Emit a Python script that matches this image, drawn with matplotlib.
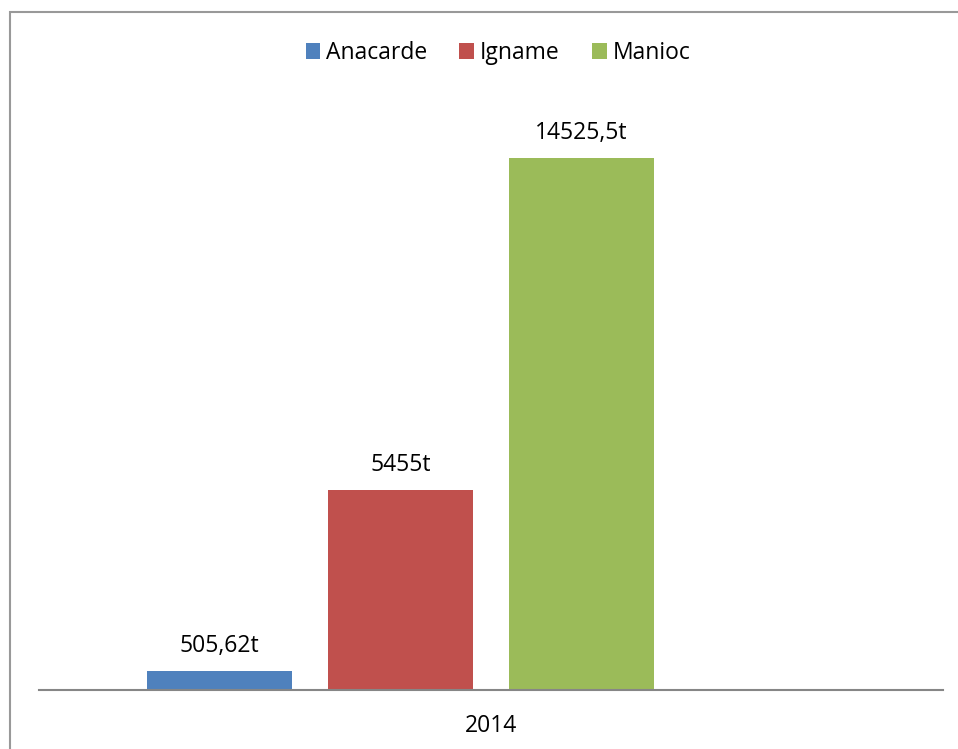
import matplotlib.pyplot as plt
from matplotlib.patches import Rectangle

plt.rcParams["font.family"] = ["Open Sans", "DejaVu Sans"]

cultures = ["Anacarde", "Igname", "Manioc"]
production = [505.62, 5455, 14525.5]
labels = ["505,62t", "5455t", "14525,5t"]
colors = ["#4f81bd", "#c0504d", "#9bbb59"]
year = "2014"

fig = plt.figure(figsize=(9.58, 7.49), dpi=100)
ax = fig.add_axes([39 / 958, 1 - 689.5 / 749, 904 / 958, 585.5 / 749])

for i, (name, val, lab, col) in enumerate(zip(cultures, production, labels, colors)):
    ax.bar(i, val, width=0.803, color=col, label=name)
    ax.annotate(lab, (i, val), xytext=(0, 9), textcoords="offset points",
                ha="center", va="bottom", fontsize=16.5)

ax.set_xlim(-1, 4)
ax.set_ylim(0, 16000)
ax.set_xticks([1.5])
ax.set_xticklabels([year], fontsize=16.5)
ax.tick_params(axis="x", length=0, pad=18)
ax.set_yticks([])
for side in ["top", "right", "left"]:
    ax.spines[side].set_visible(False)
ax.spines["bottom"].set_color("#868686")
ax.spines["bottom"].set_linewidth(1.5)

ax.legend(loc="center", bbox_to_anchor=(498 / 958, 1 - 53 / 749), bbox_transform=fig.transFigure,
          ncol=3, frameon=False, fontsize=16.5, handlelength=0.65, handleheight=0.65,
          handletextpad=0.25, columnspacing=1.4)

# outer chart frame
fig.patches.append(Rectangle((10 / 958, -0.05), 1.0, 1 - 12 / 749 + 0.05,
                             transform=fig.transFigure, fill=False,
                             edgecolor="#999999", linewidth=1.5))

fig.savefig("out.png", dpi=100)
